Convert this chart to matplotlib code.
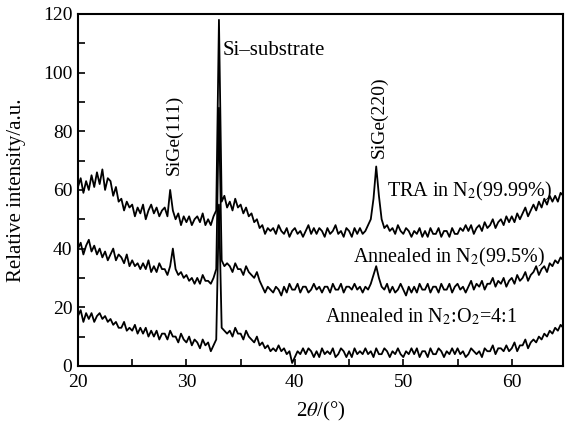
import numpy as np
import matplotlib.pyplot as plt
from matplotlib.ticker import MultipleLocator

plt.rcParams["font.family"] = ["Liberation Serif", "DejaVu Serif"]
plt.rcParams["mathtext.fontset"] = "stix"

# -----------------------------
# Data — XRD patterns (step 0.25 deg, 20 .. 64.75)
# -----------------------------
two_theta = np.arange(20.0, 65.0, 0.25)

tra_n2_9999 = [
    61, 64, 59, 63,  60, 65, 61, 66,  62, 67, 60, 64,  63, 58, 61, 56,
    57, 53, 56, 54,  55, 51, 54, 52,  55, 50, 53, 55,  52, 54, 51, 53,
    54, 51, 60, 53,  50, 52, 48, 51,  49, 51, 48, 50,  51, 49, 52, 48,
    50, 48, 51, 53,  118, 56, 58, 54,  56, 53, 57, 54,  55, 52, 54, 51,
    52, 49, 50, 47,  48, 45, 47, 46,  47, 45, 48, 46,  45, 47, 44, 46,
    47, 45, 46, 44,  46, 48, 45, 47,  45, 47, 46, 44,  47, 45, 46, 48,
    45, 46, 44, 47,  46, 44, 47, 45,  47, 45, 46, 48,  50, 57, 68, 58,
    50, 47, 48, 46,  47, 45, 48, 46,  45, 47, 46, 44,  46, 45, 47, 44,
    46, 44, 47, 45,  45, 47, 44, 46,  46, 44, 47, 45,  45, 47, 46, 48,
    46, 48, 45, 47,  48, 46, 49, 47,  48, 50, 47, 49,  50, 48, 51, 49,
    51, 49, 52, 50,  52, 54, 51, 53,  55, 53, 56, 54,  57, 55, 58, 56,
    58, 56, 59, 58,
]

annealed_n2_995 = [
    40, 42, 38, 41,  43, 39, 41, 38,  40, 37, 39, 36,  38, 40, 36, 38,
    37, 35, 38, 34,  36, 34, 35, 33,  35, 33, 36, 32,  34, 32, 35, 33,
    33, 31, 34, 40,  33, 31, 32, 30,  31, 29, 30, 28,  30, 28, 31, 29,
    29, 28, 30, 33,  88, 36, 34, 35,  34, 32, 35, 33,  33, 31, 34, 32,
    31, 30, 32, 29,  27, 25, 27, 26,  25, 27, 26, 24,  27, 25, 28, 26,
    26, 28, 25, 27,  27, 25, 26, 28,  26, 27, 25, 27,  27, 25, 28, 26,
    26, 28, 25, 27,  27, 26, 28, 26,  27, 25, 27, 26,  28, 31, 34, 30,
    27, 26, 28, 25,  27, 25, 26, 28,  26, 24, 27, 25,  27, 25, 28, 26,
    26, 28, 25, 27,  27, 25, 28, 26,  26, 28, 25, 27,  28, 26, 27, 25,
    27, 29, 26, 28,  27, 29, 26, 28,  28, 30, 27, 29,  28, 30, 27, 29,
    30, 28, 31, 29,  30, 32, 29, 31,  32, 34, 31, 33,  34, 32, 35, 34,
    36, 35, 37, 36,
]

annealed_n2_o2 = [
    17, 19, 15, 18,  16, 18, 15, 17,  18, 16, 17, 15,  16, 14, 15, 13,
    13, 15, 12, 13,  12, 14, 11, 13,  11, 13, 10, 12,  10, 12, 9, 11,
    11, 9, 12, 10,  10, 8, 11, 9,  8, 10, 7, 9,  8, 6, 9, 7,
    8, 5, 7, 9,  55, 13, 12, 11,  12, 10, 13, 11,  11, 9, 12, 10,
    9, 8, 10, 7,  8, 6, 7, 5,  6, 5, 7, 5,  6, 4, 5, 1,
    3, 5, 4, 6,  4, 6, 5, 3,  5, 3, 6, 4,  5, 4, 6, 3,
    4, 6, 5, 3,  5, 3, 6, 4,  5, 4, 6, 4,  5, 3, 6, 4,
    4, 6, 5, 3,  5, 4, 6, 4,  3, 5, 4, 6,  4, 6, 3, 5,
    5, 3, 6, 4,  4, 6, 5, 3,  5, 4, 6, 4,  6, 4, 5, 3,
    4, 6, 5, 4,  5, 3, 6, 5,  5, 7, 4, 6,  6, 5, 7, 5,
    6, 8, 5, 7,  7, 9, 6, 8,  9, 8, 10, 9,  11, 10, 12, 11,
    13, 12, 14, 13,
]

# -----------------------------
# Chart
# -----------------------------
fig = plt.figure(figsize=(5.65, 4.23), dpi=100)
ax = fig.add_axes([0.138, 0.135, 0.858, 0.832])

for series in (tra_n2_9999, annealed_n2_995, annealed_n2_o2):
    ax.plot(two_theta, series, color="black", linewidth=1.3)

ax.set_xlim(20, 64.7)
ax.set_ylim(0, 120)
ax.xaxis.set_major_locator(MultipleLocator(10))
ax.xaxis.set_minor_locator(MultipleLocator(5))
ax.yaxis.set_major_locator(MultipleLocator(20))
ax.yaxis.set_minor_locator(MultipleLocator(10))
ax.tick_params(which="both", direction="in", length=5, width=1.2, labelsize=14)
ax.tick_params(axis="x", pad=6)
ax.tick_params(axis="y", pad=4)
for spine in ax.spines.values():
    spine.set_linewidth(1.5)

ax.set_xlabel(r"2$\it{\theta}$/(°)", fontsize=15, labelpad=6)
ax.set_ylabel("Relative intensity/a.u.", fontsize=15, labelpad=12)

ax.text(33.3, 107.7, "Si–substrate", fontsize=15, va="center", ha="left")
ax.text(28.9, 65, "SiGe(111)", fontsize=14, rotation=90, ha="center", va="bottom")
ax.text(47.8, 71, "SiGe(220)", fontsize=14, rotation=90, ha="center", va="bottom")
ax.text(48.5, 59.3, r"TRA in N$_2$(99.99%)", fontsize=14.5, va="center", ha="left")
ax.text(45.4, 37.1, r"Annealed in N$_2$(99.5%)", fontsize=14.5, va="center", ha="left")
ax.text(42.8, 16.6, r"Annealed in N$_2$:O$_2$=4:1", fontsize=14.5, va="center", ha="left")

fig.savefig("out.png", dpi=100)
